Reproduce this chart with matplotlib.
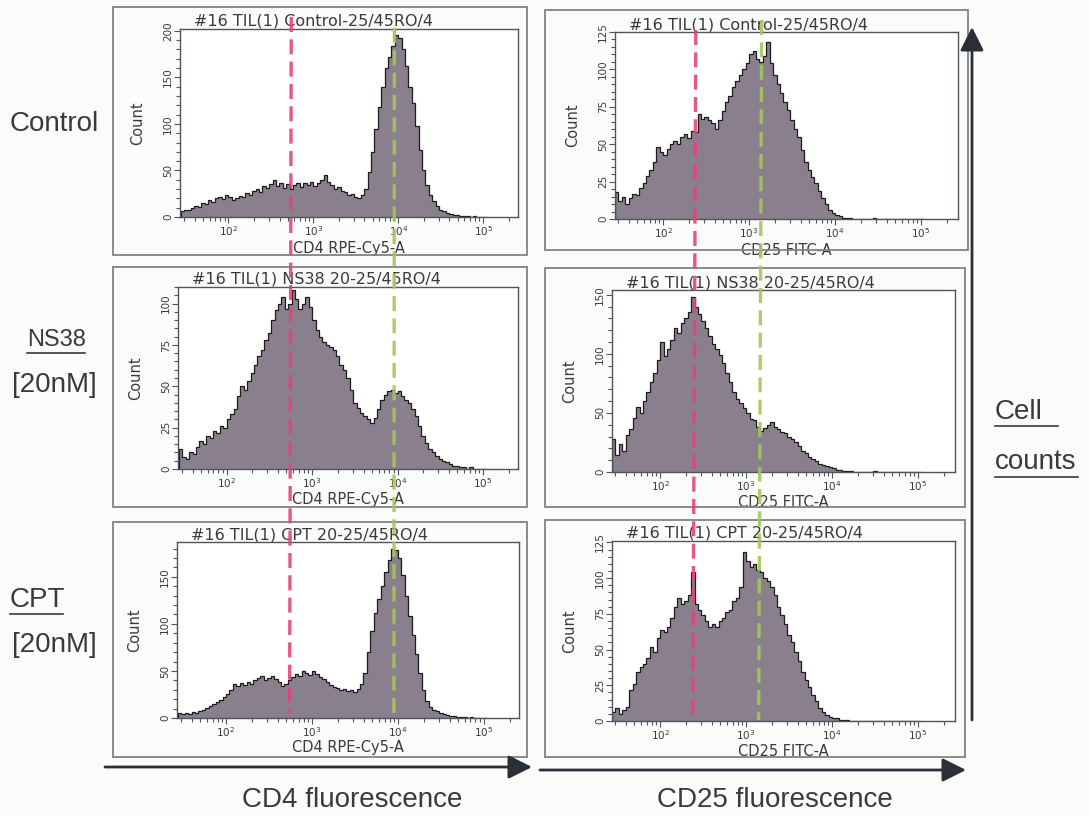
import numpy as np
import matplotlib.pyplot as plt
from matplotlib.lines import Line2D
from matplotlib.patches import Rectangle, FancyArrowPatch
from matplotlib.ticker import LogLocator, MultipleLocator, NullFormatter

W, H = 1089, 816

# log10 channel grid of the histograms: 90 bins of 0.04 decade from 10^1.44
log_start = 1.44
log_step = 0.04
n_bins = 90

# counts per bin
cd4_control = [6, 8, 7, 10, 12, 11, 15, 14, 18, 16,
               20, 22, 19, 24, 21, 18, 20, 23, 21, 26,
               24, 28, 30, 27, 33, 31, 35, 40, 33, 36,
               31, 35, 30, 34, 37, 32, 36, 34, 38, 33,
               36, 40, 45, 38, 34, 30, 32, 28, 27, 24,
               25, 22, 20, 24, 30, 48, 70, 95, 118, 140,
               160, 172, 184, 196, 192, 180, 162, 140, 122, 98,
               72, 50, 34, 24, 17, 12, 8, 6, 4, 3,
               2, 2, 1, 1, 1, 0, 1, 0, 0, 0]
cd25_control = [18, 12, 15, 10, 14, 17, 16, 21, 24, 29,
                33, 38, 48, 45, 43, 47, 50, 52, 50, 55,
                57, 54, 59, 58, 70, 67, 68, 66, 64, 60,
                66, 72, 78, 82, 88, 92, 96, 100, 104, 110,
                112, 107, 105, 109, 118, 104, 96, 90, 84, 78,
                73, 66, 60, 55, 46, 38, 33, 28, 24, 19,
                14, 10, 6, 4, 3, 2, 1, 1, 1, 0,
                0, 0, 0, 0, 0, 1, 0, 0, 0, 0,
                0, 0, 0, 0, 0, 0, 0, 0, 0, 0]
cd4_ns38 = [12, 7, 6, 10, 9, 13, 17, 15, 20, 19,
            23, 22, 26, 25, 30, 33, 36, 44, 50, 48,
            53, 58, 63, 68, 72, 78, 82, 90, 96, 100,
            104, 97, 100, 108, 103, 97, 100, 104, 98, 90,
            84, 80, 77, 75, 74, 72, 68, 63, 60, 55,
            48, 40, 37, 34, 32, 30, 28, 31, 36, 42,
            45, 47, 48, 46, 47, 44, 42, 40, 36, 32,
            26, 20, 16, 12, 10, 8, 6, 5, 4, 3,
            2, 2, 1, 1, 0, 1, 0, 0, 0, 0]
cd25_ns38 = [28, 14, 24, 18, 31, 36, 46, 55, 50, 60,
             68, 76, 84, 95, 110, 98, 104, 112, 122, 118,
             126, 130, 135, 148, 140, 134, 128, 122, 115, 108,
             104, 99, 92, 84, 76, 68, 62, 58, 54, 50,
             45, 44, 38, 35, 37, 40, 42, 38, 36, 34,
             33, 30, 28, 25, 22, 18, 16, 13, 11, 9,
             7, 6, 5, 4, 3, 2, 2, 1, 1, 1,
             0, 0, 0, 0, 0, 0, 1, 0, 0, 0,
             0, 0, 0, 0, 0, 0, 0, 0, 0, 0]
cd4_cpt = [5, 4, 5, 4, 6, 5, 7, 9, 11, 13,
           15, 17, 19, 22, 25, 30, 36, 34, 37, 35,
           38, 36, 40, 42, 45, 40, 43, 45, 41, 38,
           34, 36, 40, 44, 47, 45, 50, 48, 46, 50,
           47, 44, 41, 38, 35, 33, 32, 30, 31, 29,
           30, 28, 31, 36, 48, 70, 92, 112, 126, 140,
           155, 168, 180, 178, 170, 152, 130, 108, 88, 68,
           48, 30, 18, 12, 9, 7, 5, 4, 3, 2,
           2, 1, 1, 1, 0, 1, 0, 0, 0, 0]
cd25_cpt = [6, 9, 5, 8, 10, 22, 26, 34, 38, 40,
            44, 52, 48, 58, 64, 62, 66, 72, 80, 86,
            82, 84, 88, 104, 82, 78, 74, 70, 66, 68,
            66, 70, 72, 76, 78, 84, 86, 94, 118, 112,
            108, 110, 106, 104, 100, 98, 94, 88, 80, 74,
            68, 60, 55, 48, 42, 34, 29, 24, 18, 14,
            9, 6, 4, 3, 2, 2, 1, 1, 1, 0,
            0, 0, 0, 0, 0, 0, 0, 0, 0, 0,
            0, 0, 0, 0, 0, 0, 0, 0, 0, 0]

counts = [[cd4_control, cd25_control],
          [cd4_ns38, cd25_ns38],
          [cd4_cpt, cd25_cpt]]

samples = ["Control-25/45RO/4", "NS38 20-25/45RO/4", "CPT 20-25/45RO/4"]
channels = ["CD4 RPE-Cy5-A", "CD25 FITC-A"]
y_top = [[202, 125], [110, 154], [187, 126]]
y_step = [[50, 25], [25, 50], [50, 25]]
cd4_gates = [550, 9000]
cd25_gates = [240, 1400]

# panel geometry in pixels: (left, top, right, bottom)
axes_px = [[(180, 29, 518, 217), (615, 32, 958, 219)],
           [(178, 287, 518, 469), (612, 290, 955, 472)],
           [(177, 542, 519, 718), (612, 541, 955, 721)]]
boxes_px = [[(113, 7, 527, 255), (545, 10, 968, 250)],
            [(113, 267, 527, 507), (545, 268, 965, 507)],
            [(113, 522, 527, 757), (545, 520, 965, 757)]]
xlims = [(10 ** 1.43, 10 ** 5.41), (10 ** 1.44, 10 ** 5.43)]

fill_c = "#8a7f8c"
edge_c = "#1c1c1c"
frame_c = "#4f555c"
box_c = "#7d838a"
text_c = "#3a3a3a"
pink = "#e4447a"
green = "#a3c75a"

edges = 10 ** (log_start + log_step * np.arange(n_bins + 1))


def fx(x):
    return x / W


def fy(y):
    return 1 - y / H


fig = plt.figure(figsize=(W / 100, H / 100), dpi=100)
fig.patch.set_facecolor("#fbfbf9")

axes = []
for r in range(3):
    row = []
    for c in range(2):
        l, t, rr, b = axes_px[r][c]
        ax = fig.add_axes([fx(l), fy(b), (rr - l) / W, (b - t) / H])
        ax.set_facecolor("white")
        ax.stairs(counts[r][c], edges, fill=True, color=fill_c, lw=0)
        ax.stairs(counts[r][c], edges, color=edge_c, lw=0.9)
        ax.set_xscale("log")
        ax.set_xlim(xlims[c])
        ax.set_ylim(0, y_top[r][c])

        ax.xaxis.set_major_locator(LogLocator(base=10, subs=(1.0,), numticks=20))
        ax.xaxis.set_minor_locator(LogLocator(base=10, subs=np.arange(2, 10) * 1.0, numticks=100))
        ax.xaxis.set_minor_formatter(NullFormatter())
        ax.yaxis.set_major_locator(MultipleLocator(y_step[r][c]))
        ax.yaxis.set_minor_locator(MultipleLocator(y_step[r][c] / 5))

        ax.tick_params(which="both", direction="out", colors=frame_c, labelcolor=text_c,
                       labelsize=7.5, width=0.8)
        ax.tick_params(which="major", length=4, pad=1)
        ax.tick_params(which="minor", length=3)
        ax.tick_params(axis="y", labelrotation=90)
        for lab in ax.get_yticklabels():
            lab.set_va("center")
        for sp in ax.spines.values():
            sp.set_color(frame_c)
            sp.set_linewidth(1.0)

        ax.text(0.04, 1.0, "#16 TIL(1) " + samples[r], transform=ax.transAxes,
                ha="left", va="bottom", fontsize=11.5, color=text_c)
        ax.set_xlabel(channels[c], fontsize=10.5, color=text_c)
        ax.xaxis.label.set_va("center")
        ax.xaxis.set_label_coords(0.5, -0.168)
        ax.set_ylabel("Count", fontsize=10.5, color=text_c)
        ax.yaxis.label.set_va("center")
        ax.yaxis.set_label_coords(-0.124, 0.5)
        row.append(ax)

        bl, bt, br, bb = boxes_px[r][c]
        fig.add_artist(Rectangle((fx(bl), fy(bb)), (br - bl) / W, (bb - bt) / H,
                                 transform=fig.transFigure, fill=False,
                                 edgecolor=box_c, lw=1.3))
    axes.append(row)


def fig_x(ax, value):
    disp = ax.transData.transform((value, 0))
    return fig.transFigure.inverted().transform(disp)[0]


# gate lines running through the three rows
gate_sets = [(0, cd4_gates, [(17, 713), (28, 713)]),
             (1, cd25_gates, [(30, 720), (20, 720)])]
for c, gates, spans in gate_sets:
    for g, col, (y0, y1) in zip(gates, [pink, green], spans):
        x0 = fig_x(axes[0][c], g)
        x1 = fig_x(axes[2][c], g)
        ln = Line2D([x0, x1], [fy(y0), fy(y1)], transform=fig.transFigure,
                    color=col, lw=2.4, alpha=0.9, zorder=5)
        ln.set_dashes([4.5, 2.2])
        fig.add_artist(ln)

# axis arrows
arrow_kw = dict(transform=fig.transFigure, arrowstyle="-|>,head_length=0.9,head_width=0.45",
                mutation_scale=16, lw=2, color="#2b3038", shrinkA=0, shrinkB=0)
fig.add_artist(FancyArrowPatch((fx(105), fy(767)), (fx(532), fy(767)), **arrow_kw))
fig.add_artist(FancyArrowPatch((fx(540), fy(770)), (fx(966), fy(770)), **arrow_kw))
fig.add_artist(FancyArrowPatch((fx(972), fy(720)), (fx(972), fy(27)), **arrow_kw))

big = dict(family=["Liberation Sans", "DejaVu Sans"], fontsize=20, color=text_c)
axis_font = dict(family=["Liberation Sans", "DejaVu Sans"], fontsize=20, color=text_c)

fig.text(fx(10), fy(124), "Control", ha="left", va="center", **big)
fig.text(fx(27), fy(340), "NS38", ha="left", va="center",
         family=["Liberation Sans", "DejaVu Sans"], fontsize=17, color=text_c)
fig.text(fx(12), fy(385), "[20nM]", ha="left", va="center", **big)
fig.text(fx(10), fy(600), "CPT", ha="left", va="center", **big)
fig.text(fx(12), fy(645), "[20nM]", ha="left", va="center", **big)
fig.text(fx(995), fy(412), "Cell", ha="left", va="center", **big)
fig.text(fx(995), fy(462), "counts", ha="left", va="center", **big)
fig.text(fx(352), fy(800), "CD4 fluorescence", ha="center", va="center", **axis_font)
fig.text(fx(775), fy(800), "CD25 fluorescence", ha="center", va="center", **axis_font)

# underlines
for x0, x1, y in [(27, 85, 353), (10, 63, 614), (995, 1058, 426), (995, 1078, 477)]:
    fig.add_artist(Line2D([fx(x0), fx(x1)], [fy(y), fy(y)], transform=fig.transFigure,
                          color=text_c, lw=1.2))

fig.savefig("out.png", dpi=100, facecolor=fig.get_facecolor())
